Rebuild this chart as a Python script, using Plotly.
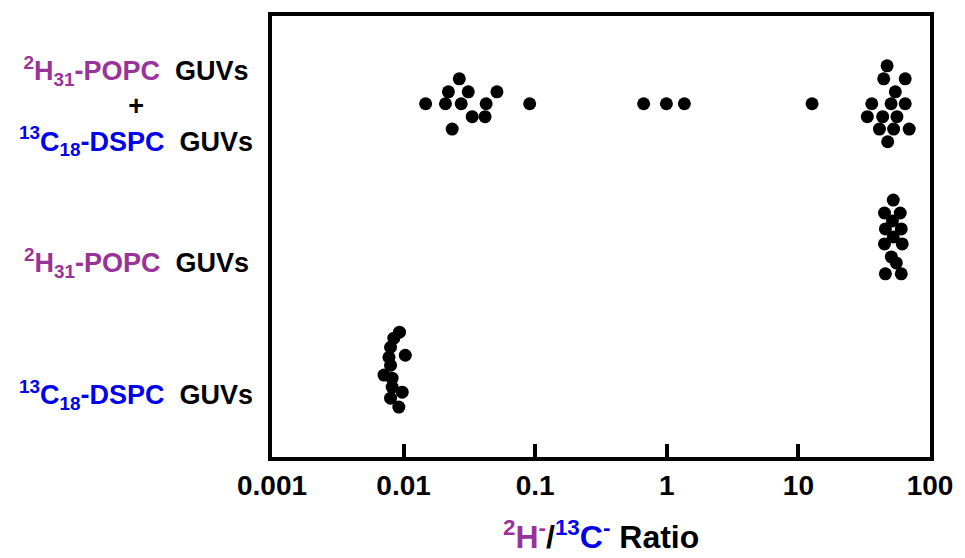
import plotly.graph_objects as go

# Ratio of 2H- to 13C- secondary-ion counts, one value per GUV, with the
# vertical spread used to lay out each group of dots.
mix_ratio = [0.0147, 0.0208, 0.0265, 0.0219, 0.0310, 0.0274, 0.0424, 0.0512,
             0.0332, 0.0416, 0.0234, 0.0908, 0.667, 0.993, 1.36, 12.7,
             47.2, 44.5, 64.8, 54.5, 36.1, 50.6, 64.8, 33.4, 43.7, 56.1,
             41.3, 52.9, 69.5, 47.7]
mix_spread = [0, 0, 0.187, 0.09, 0.09, 0, 0, 0.09,
              -0.097, -0.097, -0.19, 0, 0, 0, 0, 0,
              0.285, 0.187, 0.187, 0.09, 0, 0, 0, -0.097, -0.097, -0.097,
              -0.19, -0.19, -0.19, -0.285]

popc_ratio = [52.6, 45.1, 59.4, 51.8, 45.8, 60.5, 52.6, 45.1, 61.5,
              50.8, 55.5, 45.8, 60.5]
popc_spread = [0.277, 0.18, 0.18, 0.12, 0.06, 0.06, 0, -0.052, -0.052,
               -0.15, -0.195, -0.277, -0.277]

dspc_ratio = [0.00931, 0.00843, 0.00796, 0.0103, 0.00774, 0.00796, 0.00710,
              0.00818, 0.00818, 0.00976, 0.00796, 0.00920]
dspc_spread = [0.285, 0.24, 0.172, 0.112, 0.097, 0.037, -0.037,
               -0.06, -0.127, -0.165, -0.21, -0.277]

group_pos = {"mix": 2, "popc": 1, "dspc": 0}

tick_vals = [0.001, 0.01, 0.1, 1, 10, 100]
tick_text = ["0.001", "0.01", "0.1", "1", "10", "100"]

PURPLE = "#993399"
BLUE = "#0000ee"
FONT = "Liberation Sans, Arial, sans-serif"

popc_txt = (f"<span style='color:{PURPLE}'><sup>2</sup>H<sub>31</sub>-POPC</span>"
            "\u00a0\u00a0GUVs")
dspc_txt = (f"<span style='color:{BLUE}'><sup>13</sup>C<sub>18</sub>-DSPC</span>"
            "\u00a0\u00a0GUVs")

fig = go.Figure()
for ratio, spread, key in [(mix_ratio, mix_spread, "mix"),
                           (popc_ratio, popc_spread, "popc"),
                           (dspc_ratio, dspc_spread, "dspc")]:
    fig.add_trace(go.Scatter(
        x=ratio,
        y=[group_pos[key] + s for s in spread],
        mode="markers",
        marker=dict(color="black", size=13, line=dict(width=0)),
        showlegend=False,
        hoverinfo="x",
    ))

fig.update_layout(
    width=965, height=558,
    margin=dict(l=272, r=29, t=15, b=101),
    paper_bgcolor="white", plot_bgcolor="white",
    font=dict(family=FONT, color="black", weight="bold"),
)
fig.update_xaxes(
    type="log", range=[-3, 2],
    tickvals=tick_vals, ticktext=tick_text,
    ticks="inside", ticklen=13, tickwidth=3.5, tickcolor="black",
    tickfont=dict(size=28, family=FONT, weight="bold"),
    showline=True, linewidth=4, linecolor="black", mirror=True,
    showgrid=False, zeroline=False,
)
fig.update_yaxes(
    range=[-0.652, 2.659],
    showticklabels=False, ticks="",
    showline=True, linewidth=4, linecolor="black", mirror=True,
    showgrid=False, zeroline=False,
)

label_font = dict(size=27, family=FONT, color="black", weight="bold")
for text, ypos in [(popc_txt + "<br>+<br>" + dspc_txt, 0.796),
                   (popc_txt, 0.441),
                   (dspc_txt, 0.140)]:
    fig.add_annotation(text=text, xref="paper", yref="paper",
                       x=-0.206, y=ypos, xanchor="center", yanchor="middle",
                       showarrow=False, font=label_font, align="center")

fig.add_annotation(
    text=(f"<span style='color:{PURPLE}'><sup>2</sup>H<sup>-</sup></span>/"
          f"<span style='color:{BLUE}'><sup>13</sup>C<sup>-</sup></span> Ratio"),
    xref="paper", yref="paper", x=0.5, y=-0.178,
    xanchor="center", yanchor="middle", showarrow=False,
    font=dict(size=32, family=FONT, color="black", weight="bold"),
)

fig.write_html("out.html")
